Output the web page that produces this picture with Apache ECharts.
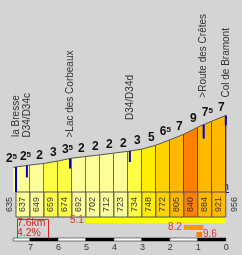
<!DOCTYPE html>
<html><head><meta charset="utf-8">
<script src="https://cdn.jsdelivr.net/npm/echarts@6/dist/echarts.min.js"></script>
<style>html,body{margin:0;padding:0;background:#d4d4d4}#c{width:242px;height:255px}</style>
</head><body><div id="c"></div>
<script>
// ---- data ----
const kmFromStart = [0, 0.1, 0.6, 1.1, 1.6, 2.1, 2.6, 3.1, 3.6, 4.1, 4.6, 5.1, 5.6, 6.1, 6.6, 7.1, 7.6];
const elevations = [635, 637, 649, 659, 674, 692, 702, 712, 723, 734, 748, 772, 805, 840, 884, 921, 956];
const gradients = [2.5, 2.5, 2, 3, 3.5, 2, 2, 2, 2, 3, 5, 6.5, 7, 9, 7.5, 7];
const waypointNames = ['la Bresse', 'D34/D34c', '>Lac des Corbeaux', 'D34/D34d', '>Route des Crêtes', 'Col de Bramont'];
const waypointKm = [0.1, 0.49, 2.03, 4.17, 6.81, 7.6];
const scaleKmToGo = [7, 6, 5, 4, 3, 2, 1, 0];
const scaleTickLabels = ['7', '6', '5', '4', '3', '2', '1', '0'];
const totalKm = 7.6;
const avgGrade = 4.2;
const steepValues = ['5.1', '8.2', '9.6'];
const steepFrom = [2.6, 6.1, 6.55];
const steepTo = [7.6, 6.8, 6.75];

// ---- style / layout ----
const BASE = 482, TOPV = 1548;
const BG = '#d4d4d4';
const FONT = '"Liberation Sans", Arial, sans-serif';
const markLen = [25, 12, 10, 11, 14, 10];
const labelGap = [30, 28, 21, 31, 27, 18];
const steepColors = ['#ffff00', '#ff9900', '#ff8000'];

function gradColor(g) {
  if (g < 3) return '#ffff99';
  if (g < 4) return '#ffff44';
  if (g < 5) return '#ffff00';
  if (g < 6) return '#ffee00';
  if (g < 7) return '#ffd200';
  if (g < 8) return '#ffb900';
  if (g < 9) return '#ff9900';
  return '#ff7f00';
}
function elevAt(km) {
  for (let i = 0; i < kmFromStart.length - 1; i++) {
    if (km <= kmFromStart[i + 1]) {
      const t = (km - kmFromStart[i]) / (kmFromStart[i + 1] - kmFromStart[i]);
      return elevations[i] + t * (elevations[i + 1] - elevations[i]);
    }
  }
  return elevations[elevations.length - 1];
}
function gradText(g) {
  const w = Math.floor(g), f = Math.round((g - w) * 10);
  return f ? '{b|' + w + '}{s|' + f + '}' : '{b|' + w + '}';
}

const segData = gradients.map((g, i) => [kmFromStart[i], kmFromStart[i + 1], elevations[i], elevations[i + 1], g]);
const cellData = [];
for (let i = 1; i < gradients.length; i++) cellData.push([kmFromStart[i], kmFromStart[i + 1], elevations[i], gradients[i]]);
const wpData = waypointKm.map((k, i) => [k, elevAt(k), i]);
const scaleData = [];
const bounds = [totalKm].concat(scaleKmToGo);
for (let i = 0; i < bounds.length - 1; i++) scaleData.push([totalKm - bounds[i], totalKm - bounds[i + 1], i]);
const steepData = steepValues.map((v, i) => [steepFrom[i], steepTo[i], i]);

const chart = echarts.init(document.getElementById('c'), null, { renderer: 'canvas' });
chart.setOption({
  backgroundColor: BG,
  animation: false,
  grid: { left: 13.2, right: 16.2, top: 20, bottom: 63 },
  xAxis: { type: 'value', min: 0, max: totalKm, show: false },
  yAxis: { type: 'value', min: BASE, max: TOPV, show: false },
  series: [
    { // profile columns
      type: 'custom', data: segData, clip: false,
      renderItem(params, api) {
        const x0 = api.value(0), x1 = api.value(1), e0 = api.value(2), e1 = api.value(3), g = api.value(4);
        const p0 = api.coord([x0, BASE]), p1 = api.coord([x0, e0]), p2 = api.coord([x1, e1]), p3 = api.coord([x1, BASE]);
        return { type: 'group', children: [
          { type: 'polygon', shape: { points: [p0, p1, p2, p3] }, style: { fill: gradColor(g) } },
          { type: 'line', shape: { x1: p3[0], y1: p3[1], x2: p2[0], y2: p2[1] }, style: { stroke: '#000', lineWidth: 1 } },
          { type: 'line', shape: { x1: p1[0], y1: p1[1], x2: p2[0], y2: p2[1] }, style: { stroke: '#555', lineWidth: 1 } },
          { type: 'text', x: p2[0] - 4.5, y: p2[1] - 2,
            style: { text: gradText(g), align: 'center', verticalAlign: 'bottom',
              rich: { b: { fontSize: 12, fontWeight: 'bold', fontFamily: FONT, fill: '#111', lineHeight: 12 },
                      s: { fontSize: 8, fontWeight: 'bold', fontFamily: FONT, fill: '#111', verticalAlign: 'top', lineHeight: 12 } } } }
        ] };
      }
    },
    { // elevation cells
      type: 'custom', data: cellData, clip: false,
      renderItem(params, api) {
        const x0 = api.value(0), x1 = api.value(1), e = api.value(2), g = api.value(3);
        const a = api.coord([x0, BASE]), b = api.coord([x1, BASE]);
        return { type: 'group', children: [
          { type: 'rect', shape: { x: a[0], y: a[1], width: b[0] - a[0], height: 25 }, style: { fill: gradColor(g), stroke: '#555', lineWidth: 1 } },
          { type: 'text', x: (a[0] + b[0]) / 2, y: a[1] + 12.5, rotation: Math.PI / 2,
            style: { text: String(e), align: 'center', verticalAlign: 'middle', fontSize: 9, fontFamily: FONT, fill: '#333' } }
        ] };
      }
    },
    { // end elevations outside
      type: 'custom', data: [[0, elevations[0], -1], [totalKm, elevations[elevations.length - 1], 1]], clip: false,
      renderItem(params, api) {
        const p = api.coord([api.value(0), BASE]);
        const side = api.value(2);
        return { type: 'text', x: p[0] + (side < 0 ? -3.5 : 8.5), y: p[1] + 12.5, rotation: Math.PI / 2,
          style: { text: String(api.value(1)), align: 'center', verticalAlign: 'middle', fontSize: 9, fontFamily: FONT, fill: '#333' } };
      }
    },
    { // waypoints
      type: 'custom', data: wpData, clip: false,
      renderItem(params, api) {
        const i = api.value(2);
        const p = api.coord([api.value(0), api.value(1)]);
        return { type: 'group', children: [
          { type: 'rect', shape: { x: p[0] - 1, y: p[1], width: 2, height: markLen[i] }, style: { fill: '#0000cc' } },
          { type: 'text', x: p[0], y: p[1] - labelGap[i], rotation: Math.PI / 2,
            style: { text: waypointNames[i], align: 'left', verticalAlign: 'middle', fontSize: 10, fontFamily: FONT, fill: '#333' } }
        ] };
      }
    },
    { // steepest stretches
      type: 'custom', data: steepData, clip: false,
      renderItem(params, api) {
        const i = api.value(2);
        const a = api.coord([api.value(0), BASE]), b = api.coord([api.value(1), BASE]);
        const y = a[1] + 26 + i * 7;
        return { type: 'group', children: [
          { type: 'rect', shape: { x: a[0], y: y, width: b[0] - a[0], height: 5 }, style: { fill: steepColors[i] } },
          { type: 'text', x: i === 2 ? b[0] + 1 : a[0] - 2, y: y + 2.5,
            style: { text: steepValues[i], align: i === 2 ? 'left' : 'right', verticalAlign: 'middle', fontSize: 10, fontFamily: FONT, fill: '#e83030' } }
        ] };
      }
    },
    { // km scale bar
      type: 'custom', data: scaleData, clip: false,
      renderItem(params, api) {
        const i = api.value(2);
        const a = api.coord([api.value(0), BASE]), b = api.coord([api.value(1), BASE]);
        const y = a[1] + 46;
        return { type: 'rect', shape: { x: a[0], y: y, width: b[0] - a[0], height: 3 },
          style: { fill: i % 2 === 0 ? '#ffffff' : '#000000', stroke: '#000', lineWidth: 0.5 } };
      }
    },
    { // km tick labels
      type: 'custom', data: scaleKmToGo.map((k, i) => [totalKm - k, i]), clip: false,
      renderItem(params, api) {
        const p = api.coord([api.value(0), BASE]);
        return { type: 'text', x: p[0] + 0.5, y: p[1] + 56,
          style: { text: scaleTickLabels[api.value(1)], align: 'center', verticalAlign: 'middle', fontSize: 9, fontFamily: FONT, fill: '#333' } };
      }
    }
  ],
  graphic: [
    { type: 'text', right: 13, top: 181,
      style: { text: '©www.cyclingcols.com', fontSize: 11, fontFamily: FONT, fill: '#1010c8' } },
    { type: 'rect', left: 122, top: 192, shape: { width: 107, height: 1 }, style: { fill: '#1010c8' } },
    { type: 'rect', left: 15, top: 217, shape: { width: 31, height: 21 }, style: { fill: 'none', stroke: '#dd2222', lineWidth: 1 } },
    { type: 'text', left: 17, top: 217.5, style: { text: totalKm + 'km\n' + avgGrade + '%', fontSize: 10.5, lineHeight: 10, fontFamily: FONT, fill: '#dd2222' } }
  ]
});
</script></body></html>
